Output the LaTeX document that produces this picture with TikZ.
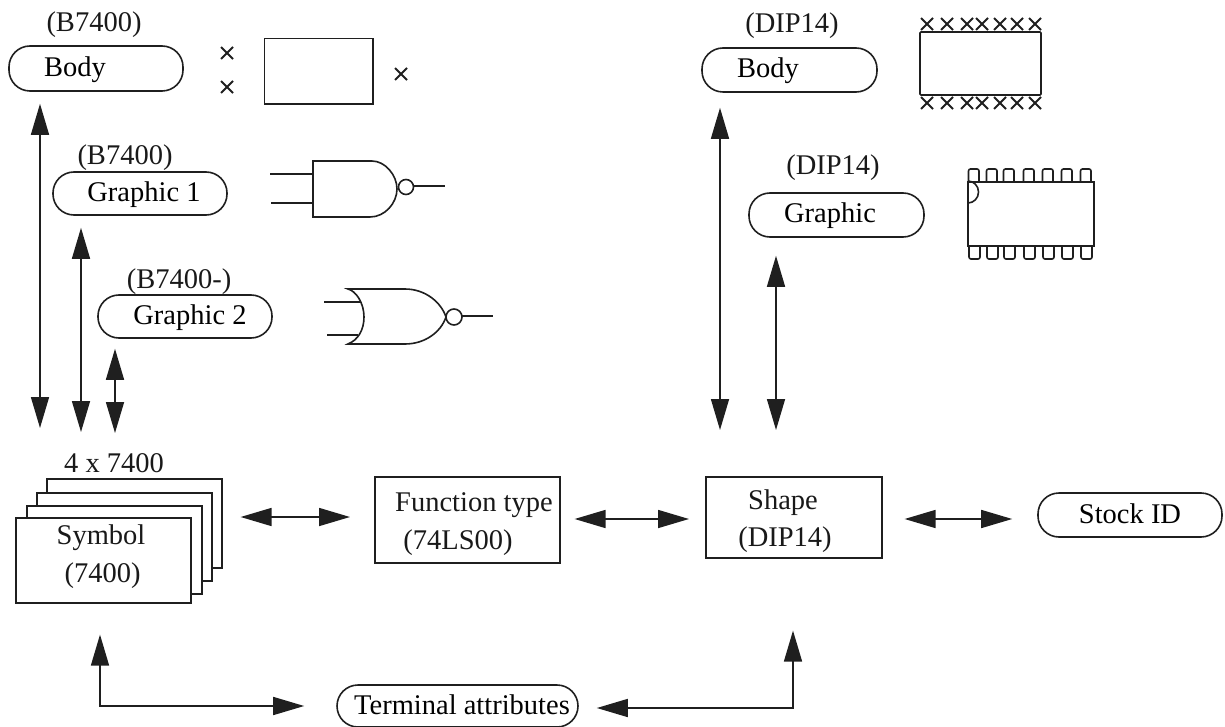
\documentclass[tikz,border=0pt]{standalone}
\usepackage{fontspec}
\setmainfont{Liberation Serif}
\usetikzlibrary{arrows.meta}
\tikzset{
  ink/.style={line width=1.6pt,draw=black!88},
  pill/.style={ink,rounded corners=21pt,minimum width=#1,minimum height=43pt,inner sep=0pt,text height=22pt,text depth=6pt,font=\fontsize{28.5}{32}\selectfont},
  pill/.default=174pt,
  lab/.style={inner sep=0pt,yshift=-2.5pt,font=\fontsize{28.5}{32}\selectfont,text=black!90},
  box/.style={ink,fill=white,inner sep=0pt,anchor=north west},
  dbl/.style={ink,{Triangle[length=31pt,width=18pt]}-{Triangle[length=31pt,width=18pt]}},
}
\newcommand{\xmark}[2]{\draw[line width=1.8pt,black!88] (#1-6,#2-6) -- (#1+6,#2+6) (#1-6,#2+6) -- (#1+6,#2-6);}
\begin{document}
\begin{tikzpicture}[x=1pt,y=-1pt]
\useasboundingbox (0,0) rectangle (1225,727);
% guide points for the connectors
\coordinate (cA) at (40,0); \coordinate (cB) at (81,0); \coordinate (cC) at (115,0);
\coordinate (cD) at (720,0); \coordinate (cE) at (776,0); \coordinate (cF) at (793,0); \coordinate (cG) at (100,0);
\coordinate (hY) at (0,517); \coordinate (hZ) at (0,519); \coordinate (hW) at (0,708);

% left column
\node[lab] (lB1) at (94,22) {(B7400)};
\node[pill,minimum height=45pt] (bodyL) at (96,68.5) {Body\hspace*{42pt}};
\node[lab] (lG1) at (125,155) {(B7400)};
\node[pill] (gr1) at (140,193.5) {\hspace*{8pt}Graphic 1};
\node[lab] (lG2) at (179,279) {(B7400-)};
\node[pill] (gr2) at (185,316.5) {\hspace*{10pt}Graphic 2};

% right column
\node[lab] (lB2) at (792,23) {(DIP14)};
\node[pill=175pt,minimum height=44pt] (bodyR) at (789.5,70) {Body\hspace*{43pt}};
\node[lab] (lG3) at (833,165) {(DIP14)};
\node[pill=175pt,minimum height=44pt] (grR) at (836.5,215) {Graphic\hspace*{13pt}};

% symbol stack
\node[lab] (l4) at (114,461) {4 x 7400};
\node[box,minimum width=175pt,minimum height=89pt] (s4) at (46,478) {};
\node[box,minimum width=175pt,minimum height=88pt] (s3) at (36,492) {};
\node[box,minimum width=175pt,minimum height=88pt] (s2) at (26,505) {};
\node[box,minimum width=175pt,minimum height=85pt] (s1) at (15,517) {};
\node[lab] (sym1) at (101,535) {Symbol};
\node[lab] (sym2) at (102.5,573) {(7400)};

% function, shape, stock, terminal
\node[box,minimum width=185pt,minimum height=86pt] (func) at (374,476) {};
\node[lab] (f1) at (474,503) {Function type};
\node[lab] (f2) at (458,540) {(74LS00)};
\node[box,minimum width=176pt,minimum height=81pt] (shape) at (705,476) {};
\node[lab] (sh1) at (783,500) {Shape};
\node[lab] (sh2) at (785,537) {(DIP14)};
\node[pill=184pt,minimum height=44pt] (stock) at (1130,515) {Stock ID};
\node[pill=241pt,minimum height=42pt] (term) at (457.5,706) {\hspace*{9pt}Terminal attributes};

% connectors
\draw[dbl,shorten <=12pt,shorten >=89pt] (bodyL.south -| cA) -- (s1.north -| cA);
\draw[dbl,shorten <=12pt,shorten >=85pt] (gr1.south -| cB) -- (s1.north -| cB);
\draw[dbl,shorten <=10pt,shorten >=84pt] (gr2.south -| cC) -- (s1.north -| cC);
\draw[dbl,shorten <=15pt,shorten >=46pt] (bodyR.south -| cD) -- (shape.north -| cD);
\draw[dbl,shorten <=18pt,shorten >=46pt] (grR.south -| cE) -- (shape.north -| cE);
\draw[dbl,shorten <=18pt,shorten >=24pt] (s4.east |- hY) -- (func.west |- hY);
\draw[dbl,shorten <=14pt,shorten >=16pt] (func.east |- hZ) -- (shape.west |- hZ);
\draw[dbl,shorten <=22pt,shorten >=25pt] (shape.east |- hZ) -- (stock.west |- hZ);
\draw[dbl,shorten <=31pt,shorten >=32pt] (s1.south -| cG) -- (term.west -| cG) -- (term.west);
\draw[dbl,shorten <=18pt,shorten >=72pt] (term.east |- hW) -- (cF |- hW) -- (shape.south -| cF);

% package outline, left
\xmark{227}{53}\xmark{227}{87}\xmark{401}{74}
\draw[ink] (264.5,38.5) rectangle (373,104);

% NAND gate
\draw[ink] (270,174) -- (313,174) (271,203) -- (313,203);
\draw[ink] (313,161) -- (372,161) .. controls (385,161) and (397,175) .. (397,189) .. controls (397,203) and (385,217) .. (370,217) -- (313,217) -- cycle;
\draw[ink] (406,187) circle (7.5);
\draw[ink] (413.5,186) -- (445,186);

% NOR gate
\draw[ink] (324,302) -- (361,302) (327,335) -- (358,335);
\draw[ink] (348,289) .. controls (356,291) and (364,303) .. (364,317) .. controls (364,330) and (358,340) .. (348,344) -- (405,344) .. controls (425,344) and (441,332) .. (446,317) .. controls (441,302) and (425,289) .. (405,289) -- cycle;
\draw[ink] (454,317) circle (8);
\draw[ink] (462,316) -- (493,316);

% DIP crosses
\draw[ink,rounded corners=1pt] (920,32) rectangle (1041,95);
\foreach \x in {927,947,967,982,1000,1017,1035}{\xmark{\x}{24}\xmark{\x}{103}}

% DIP graphic
\draw[ink] (968,182) rectangle (1094,246);
\draw[ink] (968,203) arc (90:-90:10.5 and 11);
\foreach \x in {968,986,1003,1023,1042,1061,1080}{
  \draw[ink,rounded corners=2pt] (\x.5,182) -- (\x.5,169) -- (\x+11,169) -- (\x+11,182);
  \draw[ink,rounded corners=2pt] (\x+1,246) -- (\x+1,259) -- (\x+12,259) -- (\x+12,246);
}
\end{tikzpicture}
\end{document}
